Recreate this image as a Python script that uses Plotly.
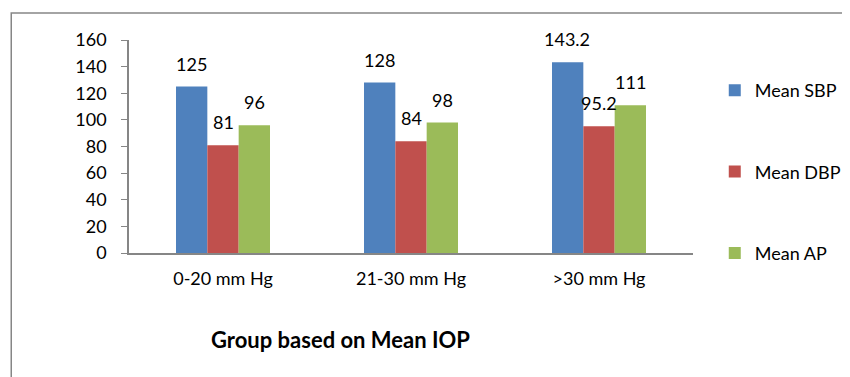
import plotly.graph_objects as go

categories = ["0-20 mm Hg", "21-30 mm Hg", ">30 mm Hg"]
series_names = ["Mean SBP", "Mean DBP", "Mean AP"]
sbp = [125, 128, 143.2]
dbp = [81, 84, 95.2]
ap = [96, 98, 111]
label_sbp = ["125", "128", "143.2"]
label_dbp = ["81", "84", "95.2"]
label_ap = ["96", "98", "111"]
y_ticks = [0, 20, 40, 60, 80, 100, 120, 140, 160]
x_title = "Group based on Mean IOP"

colors = ["#4F81BD", "#C0504D", "#9BBB59"]
FONT = "Lato, Liberation Sans, sans-serif"

fig = go.Figure()
for i, (name, vals) in enumerate(zip(series_names, [sbp, dbp, ap])):
    fig.add_trace(go.Bar(
        x=categories, y=vals, name=name, marker_color=colors[i],
        marker_line_width=0, legendgroup=name,
    ))

# page body has an 8px margin: figure coords = screen coords - 8
OFF = 8
W, H = 850, 377
ml = 129 - OFF
plot_right = 699 - OFF
mt = 40 - OFF
plot_bottom = 253 - OFF
mr = W - plot_right
mb = H - plot_bottom
pw = W - ml - mr
ph = H - mt - mb

def px_x(sx):
    return (sx - OFF - ml) / pw

def px_y(sy):
    return (plot_bottom - (sy - OFF)) / ph

# data labels
bar_w = pw / 3 * 0.5 / 3
for i, labels in enumerate([label_sbp, label_dbp, label_ap]):
    vals = [sbp, dbp, ap][i]
    for c, lab, v in zip(categories, labels, vals):
        fig.add_annotation(
            x=c, y=v, text=lab, showarrow=False, xref="x", yref="y",
            xshift=(i - 1) * bar_w, yanchor="bottom", yshift=10,
            font=dict(size=18, color="#000000", family=FONT),
        )

fig.add_annotation(
    x=px_x(343), y=px_y(339), xref="paper", yref="paper",
    xanchor="center", yanchor="middle",
    text="<b>" + x_title + "</b>", showarrow=False,
    font=dict(size=22, color="#000000", family=FONT),
)

# outer border (left and top)
x0 = px_x(10)
y0 = px_y(380)
y1 = px_y(13)
fig.add_shape(type="path", xref="paper", yref="paper",
              path=f"M {x0} {y0} L {x0} {y1} L {px_x(860)} {y1}",
              line=dict(color="#868686", width=1.5))

fig.update_layout(
    width=W, height=H,
    margin=dict(l=ml, r=mr, t=mt, b=mb),
    plot_bgcolor="white", paper_bgcolor="white",
    barmode="group", bargap=0.5, bargroupgap=0,
    font=dict(family=FONT, size=18, color="#000000"),
    legend=dict(
        x=px_x(721), xanchor="left", y=px_y(72), yanchor="top",
        tracegroupgap=55, font=dict(size=18, family=FONT),
        bgcolor="rgba(0,0,0,0)",
    ),
    showlegend=True,
)
fig.update_xaxes(
    showline=True, linecolor="#868686", linewidth=2,
    ticks="outside", ticklen=8, tickcolor="rgba(0,0,0,0)",
    showgrid=False, tickfont=dict(size=18),
)
fig.update_yaxes(
    range=[0, 160], tickvals=y_ticks, showline=True, linecolor="#868686",
    linewidth=1.5, ticks="outside", ticklen=6, tickcolor="#868686",
    ticklabelstandoff=11,
    showgrid=False, zeroline=False, tickfont=dict(size=18),
)

fig.write_html("out.html")
